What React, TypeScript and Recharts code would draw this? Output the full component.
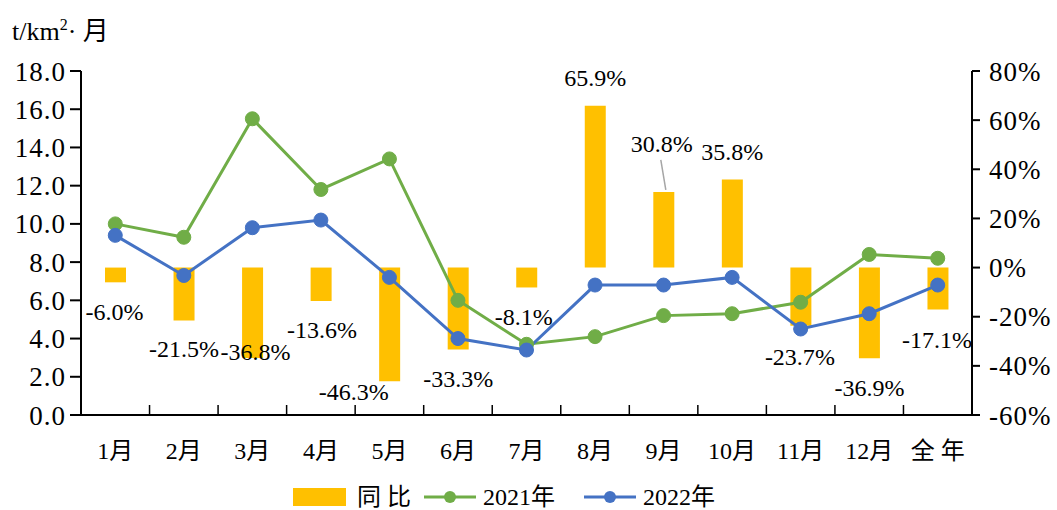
import {
  Bar,
  ComposedChart,
  LabelList,
  Legend,
  Line,
  XAxis,
  YAxis,
} from "recharts";

const categories = ["1月", "2月", "3月", "4月", "5月", "6月", "7月", "8月", "9月", "10月", "11月", "12月", "全 年"];
const values2021 = [10.0, 9.3, 15.5, 11.8, 13.4, 6.0, 3.7, 4.1, 5.2, 5.3, 5.9, 8.4, 8.2];
const values2022 = [9.4, 7.3, 9.8, 10.2, 7.2, 4.0, 3.4, 6.8, 6.8, 7.2, 4.5, 5.3, 6.8];
const yoy = [-6.0, -21.5, -36.8, -13.6, -46.3, -33.3, -8.1, 65.9, 30.8, 35.8, -23.7, -36.9, -17.1];
const leftTicks = [0, 2, 4, 6, 8, 10, 12, 14, 16, 18];
const rightTicks = [-60, -40, -20, 0, 20, 40, 60, 80];

// label offsets relative to bar centre / bar end, like the hand-placed labels in the original
const LABEL_DX = [-1, 0, 3, 1, -36, 0, -3, 0, -2, 0, -1, 0, -1];
const LABEL_DY = [30, 29, -6, 29, 11, 30, 30, -28, -48, -28, 31, 30, 30];

const data = categories.map((name, i) => ({
  name,
  y2021: values2021[i],
  y2022: values2022[i],
  yoy: yoy[i],
}));

const FONT = "'Liberation Serif', 'Times New Roman', 'Noto Sans CJK SC', serif";
const GREEN = "#70AD47";
const BLUE = "#4472C4";
const GOLD = "#FFC000";

const XTick = (props: any) => {
  const { x, y, payload } = props;
  const half = payload && payload.offset ? payload.offset : 34.25;
  return (
    <g>
      <line x1={x - half} x2={x - half} y1={y - 10} y2={y} stroke="#000" strokeWidth={1.5} />
      <text
        x={x}
        y={y + 36}
        textAnchor="middle"
        dominantBaseline="central"
        fontSize={24}
        fontFamily={FONT}
        fill="#000"
      >
        {payload.value}
      </text>
    </g>
  );
};

const YoyLabel = (props: any) => {
  const { x, y, width, height, value, index } = props;
  const cx = x + width / 2;
  const end = value >= 0 ? Math.min(y, y + height) : Math.max(y, y + height);
  const lx = cx + LABEL_DX[index];
  const ly = end + LABEL_DY[index];
  return (
    <g>
      {index === 8 && (
        <line x1={lx - 1} y1={ly + 16} x2={cx + 2} y2={end - 2} stroke="#A6A6A6" strokeWidth={1.5} />
      )}
      <text
        x={lx}
        y={ly}
        textAnchor="middle"
        dominantBaseline="central"
        fontSize={24}
        fontFamily={FONT}
        fill="#000"
      >
        {value.toFixed(1)}%
      </text>
    </g>
  );
};

const Dot = (color: string) => (props: any) => {
  const { cx, cy, index } = props;
  return <circle key={index} cx={cx} cy={cy} r={7} fill={color} stroke={color} />;
};

const LegendContent = () => {
  const cy = 29;
  const txt = { fontSize: 24, fontFamily: FONT, fill: "#000", dominantBaseline: "central" as const };
  return (
    <svg width={1057} height={42} style={{ display: "block" }}>
      <rect x={293} y={cy - 9} width={53} height={18} fill={GOLD} />
      <text x={357} y={cy} {...txt}>同 比</text>
      <line x1={424} x2={476} y1={cy} y2={cy} stroke={GREEN} strokeWidth={3} />
      <circle cx={450} cy={cy} r={6} fill={GREEN} />
      <text x={483} y={cy} {...txt}>2021年</text>
      <line x1={584} x2={636} y1={cy} y2={cy} stroke={BLUE} strokeWidth={3} />
      <circle cx={610} cy={cy} r={6} fill={BLUE} />
      <text x={643} y={cy} {...txt}>2022年</text>
    </svg>
  );
};

const axisTick = { fontSize: 27, fontFamily: FONT, fill: "#000", letterSpacing: 1 };

export default function App() {
  return (
    <div style={{ position: "relative", width: 1057, height: 510, background: "#fff" }}>
      <style>{`body{margin:0}`}</style>
      <div
        style={{
          position: "absolute",
          left: 12,
          top: 10,
          fontFamily: FONT,
          fontSize: 26,
          color: "#000",
          zIndex: 2,
        }}
      >
        t/km<sup style={{ fontSize: 16 }}>2</sup>· 月
      </div>
      <ComposedChart
        width={1057}
        height={510}
        data={data}
        margin={{ top: 71, right: 0, bottom: 0, left: 0 }}
        barSize={21}
      >
        <XAxis
          dataKey="name"
          xAxisId={0}
          yAxisId="left"
          tick={<XTick />}
          tickLine={false}
          tickSize={0}
          tickMargin={0}
          interval={0}
          height={53}
          axisLine={{ stroke: "#000", strokeWidth: 2 }}
        />
        <YAxis
          yAxisId="left"
          orientation="left"
          width={81}
          domain={[0, 18]}
          ticks={leftTicks}
          tickFormatter={(v: number) => v.toFixed(1)}
          tick={axisTick}
          tickSize={11}
          tickMargin={4}
          tickLine={{ stroke: "#000", strokeWidth: 2 }}
          axisLine={{ stroke: "#000", strokeWidth: 2 }}
        />
        <YAxis
          yAxisId="right"
          orientation="right"
          width={85}
          domain={[-60, 80]}
          ticks={rightTicks}
          tickFormatter={(v: number) => `${v}%`}
          tick={axisTick}
          tickSize={8}
          tickMargin={9}
          tickLine={{ stroke: "#000", strokeWidth: 2 }}
          axisLine={{ stroke: "#000", strokeWidth: 2 }}
        />
        <Legend
          verticalAlign="bottom"
          height={42}
          wrapperStyle={{ left: 0, width: 1057 }}
          content={<LegendContent />}
        />
        <Bar yAxisId="right" dataKey="yoy" name="同 比" fill={GOLD} isAnimationActive={false}>
          <LabelList dataKey="yoy" content={<YoyLabel />} />
        </Bar>
        <Line
          yAxisId="left"
          dataKey="y2021"
          name="2021年"
          stroke={GREEN}
          strokeWidth={3}
          dot={Dot(GREEN)}
          activeDot={false}
          isAnimationActive={false}
        />
        <Line
          yAxisId="left"
          dataKey="y2022"
          name="2022年"
          stroke={BLUE}
          strokeWidth={3}
          dot={Dot(BLUE)}
          activeDot={false}
          isAnimationActive={false}
        />
      </ComposedChart>
    </div>
  );
}
